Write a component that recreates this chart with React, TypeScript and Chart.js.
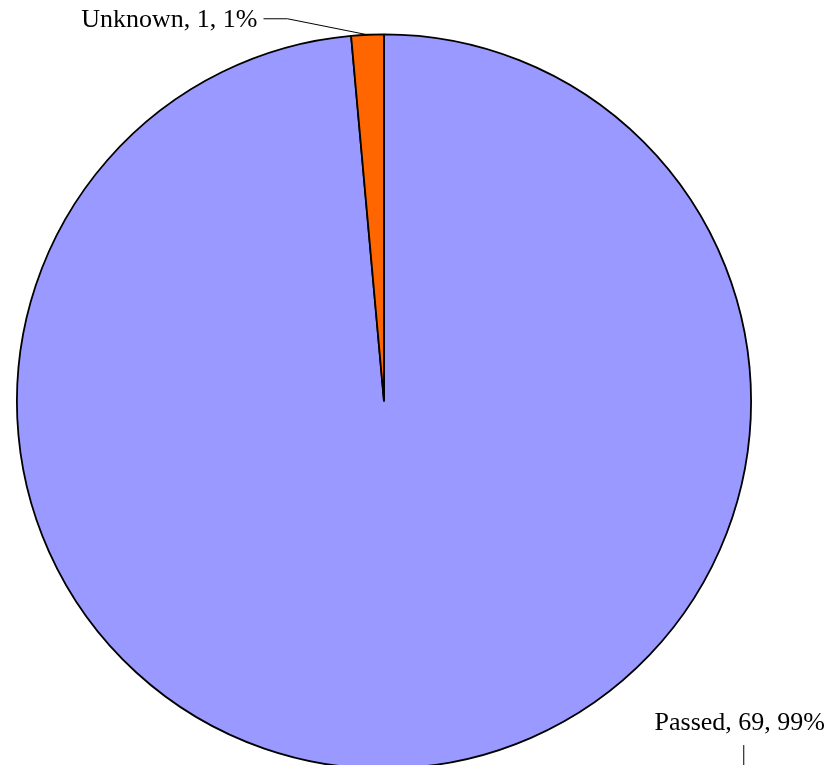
import React, { useEffect, useRef } from "react";
import { Chart, registerables } from "chart.js";

Chart.register(...registerables);

const categories = ["Passed", "Unknown"];
const counts = [69, 1];
const percents = ["99%", "1%"];
const colors = ["#9999FF", "#FF6600"];

const labelPlugin = {
  id: "pieLabels",
  afterDraw(chart: any) {
    const ctx = chart.ctx;
    const meta = chart.getDatasetMeta(0);
    ctx.save();
    ctx.font = '26px "Liberation Serif", "Times New Roman", serif';
    ctx.fillStyle = "#000";
    ctx.strokeStyle = "#000";
    ctx.lineWidth = 1;
    meta.data.forEach((arc: any, i: number) => {
      const { x, y, outerRadius, startAngle, endAngle } = arc.getProps(
        ["x", "y", "outerRadius", "startAngle", "endAngle"],
        true
      );
      const mid = (startAngle + endAngle) / 2;
      const px = x + Math.cos(mid) * outerRadius;
      const py = y + Math.sin(mid) * outerRadius;
      const text = `${categories[i]}, ${counts[i]}, ${percents[i]}`;
      if (categories[i] === "Unknown") {
        const ex = px - 80;
        const ey = py - 16;
        const hx = ex - 24;
        ctx.beginPath();
        ctx.moveTo(px, py);
        ctx.lineTo(ex, ey);
        ctx.lineTo(hx, ey);
        ctx.stroke();
        ctx.textAlign = "right";
        ctx.textBaseline = "middle";
        ctx.fillText(text, hx - 6, ey + 1);
      } else {
        const lx = x + outerRadius * 0.98;
        const ty = y + outerRadius * 0.876;
        ctx.beginPath();
        ctx.moveTo(lx, ty + 22);
        ctx.lineTo(lx, ty + 80);
        ctx.stroke();
        ctx.textAlign = "center";
        ctx.textBaseline = "middle";
        ctx.fillText(text, lx - 4, ty);
      }
    });
    ctx.restore();
  },
};

export default function App() {
  const ref = useRef<HTMLCanvasElement>(null);
  useEffect(() => {
    if (!ref.current) return;
    const chart = new Chart(ref.current, {
      type: "pie",
      data: {
        labels: categories,
        datasets: [
          {
            data: counts,
            backgroundColor: colors,
            borderColor: "#000",
            borderWidth: 1.8,
          },
        ],
      },
      options: {
        responsive: false,
        animation: false,
        layout: { padding: { left: 16, right: 79, top: 33.5, bottom: 30.5 } },
        plugins: {
          legend: { display: false },
          tooltip: { enabled: false },
        },
      },
      plugins: [labelPlugin],
    });
    return () => chart.destroy();
  }, []);
  return (
    <div
      style={{
        position: "fixed",
        left: 0,
        top: 0,
        width: 831,
        height: 765,
        overflow: "hidden",
        background: "#fff",
      }}
    >
      <canvas ref={ref} width={831} height={800} style={{ width: 831, height: 800 }} />
    </div>
  );
}
